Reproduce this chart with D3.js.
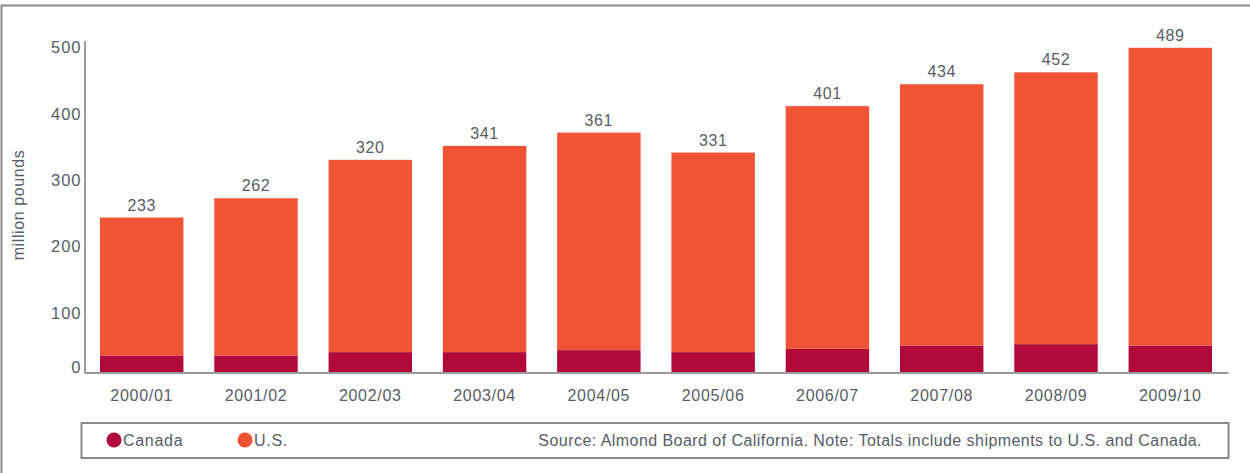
<!DOCTYPE html>
<html>
<head>
<meta charset="utf-8">
<script src="https://cdn.jsdelivr.net/npm/d3@7"></script>
<style>
  html, body { margin: 0; padding: 0; background: #fff; }
  svg { display: block; font-family: "Liberation Sans", Arial, Helvetica, sans-serif; }
</style>
</head>
<body>
<svg id="chart" width="1250" height="473"></svg>
<script>
// Almond shipments to North America, million pounds
const seasons = ["2000/01", "2001/02", "2002/03", "2003/04", "2004/05",
                 "2005/06", "2006/07", "2007/08", "2008/09", "2009/10"];
const totals  = [233, 262, 320, 341, 361, 331, 401, 434, 452, 489];
const canada  = [25, 25, 30, 30, 33, 30, 35, 40, 42, 40];
const usa     = totals.map((t, i) => t - canada[i]);
const yTicks  = [0, 100, 200, 300, 400, 500];
const seriesNames = ["Canada", "U.S."];
const sourceNote = "Source: Almond Board of California. Note: Totals include shipments to U.S. and Canada.";

const colors = { "Canada": "#b10a3a", "U.S.": "#ef5333" };
const textColor = "#585d66";
const lineColor = "#7a7a7a";

const svg = d3.select("#chart");

// outer frame: top and left edges only
svg.append("path")
  .attr("d", "M1.5,473 V5.5 H1250")
  .attr("fill", "none")
  .attr("stroke", "#8a8a8a")
  .attr("stroke-width", 2);

const x = d3.scaleBand()
  .domain(seasons)
  .range([84, 1228])
  .paddingInner(0.27)
  .paddingOuter(0.14);

const y = d3.scaleLinear()
  .domain([0, 500])
  .range([372, 40.5]);

const rows = seasons.map((s, i) => ({ season: s, "Canada": canada[i], "U.S.": usa[i], total: totals[i] }));
const stacked = d3.stack().keys(seriesNames)(rows);

// bars
svg.append("g")
  .selectAll("g")
  .data(stacked)
  .join("g")
  .attr("fill", d => colors[d.key])
  .selectAll("rect")
  .data(d => d)
  .join("rect")
  .attr("x", d => x(d.data.season))
  .attr("y", d => y(d[1]))
  .attr("width", x.bandwidth())
  .attr("height", d => y(d[0]) - y(d[1]));

// total labels
svg.append("g")
  .selectAll("text")
  .data(rows)
  .join("text")
  .attr("x", d => x(d.season) + x.bandwidth() / 2)
  .attr("y", d => y(d.total) - 7)
  .attr("text-anchor", "middle")
  .attr("font-size", 16)
  .attr("letter-spacing", 0.6)
  .attr("fill", textColor)
  .text(d => d.total);

// y axis
const yAxis = svg.append("g")
  .attr("transform", "translate(84.5,0)")
  .call(d3.axisLeft(y).tickValues(yTicks).tickSize(0).tickPadding(3));
yAxis.select(".domain").attr("stroke", lineColor).attr("stroke-width", 1.5);
yAxis.selectAll(".tick text")
  .attr("font-size", 16.5)
  .attr("letter-spacing", 1)
  .attr("font-family", "'Liberation Sans', Arial, sans-serif")
  .attr("fill", textColor)
  .attr("dy", d => d === 0 ? "-0.0em" : "0.75em");

// x axis
const xAxis = svg.append("g")
  .attr("transform", "translate(0,372.5)")
  .call(d3.axisBottom(x).tickSize(0).tickPadding(17).tickSizeOuter(0));
xAxis.select(".domain").attr("stroke", lineColor).attr("stroke-width", 1.5);
xAxis.selectAll(".tick text")
  .attr("font-size", 16)
  .attr("letter-spacing", 0.7)
  .attr("font-family", "'Liberation Sans', Arial, sans-serif")
  .attr("fill", textColor);

// y axis title
svg.append("text")
  .attr("transform", "translate(24,205) rotate(-90)")
  .attr("text-anchor", "middle")
  .attr("font-size", 16)
  .attr("letter-spacing", 0.6)
  .attr("fill", textColor)
  .text("million pounds");

// legend box
const legend = svg.append("g");
legend.append("rect")
  .attr("x", 81.5).attr("y", 423)
  .attr("width", 1147).attr("height", 35)
  .attr("fill", "#fff")
  .attr("stroke", "#8a8a8a")
  .attr("stroke-width", 2);

const legendX = d3.scaleOrdinal().domain(seriesNames).range([114, 245]);
const items = legend.selectAll("g.item")
  .data(seriesNames)
  .join("g")
  .attr("class", "item")
  .attr("transform", d => `translate(${legendX(d)},440)`);
items.append("circle")
  .attr("r", 7.5)
  .attr("fill", d => colors[d]);
items.append("text")
  .attr("x", 9)
  .attr("y", 5.5)
  .attr("font-size", 16)
  .attr("letter-spacing", 0.7)
  .attr("fill", textColor)
  .text(d => d);

legend.append("text")
  .attr("x", 1202)
  .attr("y", 445.5)
  .attr("text-anchor", "end")
  .attr("font-size", 16)
  .attr("letter-spacing", 0.45)
  .attr("fill", textColor)
  .text(sourceNote);
</script>
</body>
</html>
